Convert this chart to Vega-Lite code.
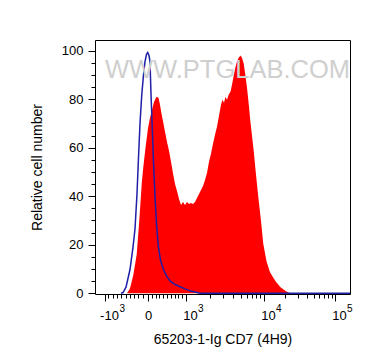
{
  "$schema": "https://vega.github.io/schema/vega-lite/v6.json",
  "width": 255,
  "height": 254,
  "autosize": {"type": "none"},
  "padding": {"left": 95, "top": 40, "right": 22, "bottom": 70},
  "background": "white",
  "title": {
    "text": "WWW.PTGLAB.COM",
    "orient": "top",
    "anchor": "middle",
    "frame": "group",
    "offset": -63,
    "baseline": "alphabetic",
    "dx": 5,
    "font": "Liberation Sans",
    "fontSize": 25.5,
    "fontWeight": "normal",
    "color": "#cfcfcf",
    "zindex": -1
  },
  "config": {
    "view": {"stroke": "black", "strokeWidth": 1},
    "font": "Liberation Sans",
    "axis": {
      "grid": false,
      "domain": false,
      "tickColor": "black",
      "tickWidth": 1,
      "labelColor": "black",
      "labelFont": "Liberation Sans",
      "labelFontSize": 13,
      "titleFont": "Liberation Sans",
      "titleFontSize": 14,
      "titleFontWeight": "normal",
      "titleColor": "black",
      "labelOverlap": false,
      "labelFlush": false
    }
  },
  "datasets": {
    "sample": [
      {"channel": 32, "count": 0},
      {"channel": 35, "count": 2},
      {"channel": 38.3, "count": 7.5},
      {"channel": 41.7, "count": 16},
      {"channel": 44.3, "count": 30},
      {"channel": 46.7, "count": 45},
      {"channel": 48.3, "count": 52},
      {"channel": 50.5, "count": 60},
      {"channel": 53, "count": 68},
      {"channel": 55, "count": 72.3},
      {"channel": 57, "count": 75.5},
      {"channel": 59, "count": 78.8},
      {"channel": 61.5, "count": 81},
      {"channel": 63.5, "count": 80.6},
      {"channel": 65, "count": 77.7},
      {"channel": 66.7, "count": 73.6},
      {"channel": 68.5, "count": 69.9},
      {"channel": 70, "count": 66.6},
      {"channel": 72, "count": 62.4},
      {"channel": 74, "count": 58.7},
      {"channel": 76, "count": 54.2},
      {"channel": 78.3, "count": 48.8},
      {"channel": 80, "count": 45},
      {"channel": 82, "count": 42.2},
      {"channel": 84, "count": 38.9},
      {"channel": 86, "count": 36.4},
      {"channel": 88, "count": 37.6},
      {"channel": 90, "count": 36.4},
      {"channel": 92, "count": 37.6},
      {"channel": 94, "count": 36.8},
      {"channel": 96, "count": 37.2},
      {"channel": 98, "count": 36.8},
      {"channel": 100, "count": 37.6},
      {"channel": 102, "count": 39.3},
      {"channel": 104, "count": 40.9},
      {"channel": 106, "count": 42.6},
      {"channel": 108, "count": 44.2},
      {"channel": 110, "count": 46.7},
      {"channel": 112, "count": 49.6},
      {"channel": 114, "count": 54.2},
      {"channel": 116, "count": 57.5},
      {"channel": 118, "count": 61.6},
      {"channel": 120, "count": 65.3},
      {"channel": 122, "count": 68.6},
      {"channel": 124, "count": 73.2},
      {"channel": 126, "count": 77.7},
      {"channel": 127.5, "count": 79.8},
      {"channel": 129, "count": 78.5},
      {"channel": 130.5, "count": 81},
      {"channel": 132, "count": 79.8},
      {"channel": 133.7, "count": 81.9},
      {"channel": 135.5, "count": 83.1},
      {"channel": 137, "count": 86},
      {"channel": 138.5, "count": 89.3},
      {"channel": 140.3, "count": 93},
      {"channel": 142, "count": 95.5},
      {"channel": 143.7, "count": 97.1},
      {"channel": 145.5, "count": 98},
      {"channel": 147, "count": 97.1},
      {"channel": 148.7, "count": 94.7},
      {"channel": 150.3, "count": 90.1},
      {"channel": 152, "count": 84.7},
      {"channel": 153.7, "count": 78.1},
      {"channel": 155.3, "count": 71.1},
      {"channel": 157, "count": 64.9},
      {"channel": 158.7, "count": 58.7},
      {"channel": 160.3, "count": 51.7},
      {"channel": 163.5, "count": 38.9},
      {"channel": 166, "count": 29.8},
      {"channel": 168.3, "count": 20.3},
      {"channel": 171.5, "count": 13.2},
      {"channel": 175, "count": 8.7},
      {"channel": 180.5, "count": 5},
      {"channel": 185.5, "count": 2.5},
      {"channel": 191, "count": 0.8},
      {"channel": 195, "count": 0}
    ],
    "control": [
      {"channel": 26, "count": 0},
      {"channel": 28, "count": 0.3},
      {"channel": 31, "count": 2.5},
      {"channel": 35, "count": 9.8},
      {"channel": 38, "count": 19},
      {"channel": 40, "count": 26.5},
      {"channel": 42, "count": 41},
      {"channel": 43.3, "count": 54},
      {"channel": 45, "count": 70},
      {"channel": 46.7, "count": 81.4},
      {"channel": 48.5, "count": 90},
      {"channel": 50, "count": 95.5},
      {"channel": 51.5, "count": 98.5},
      {"channel": 52.7, "count": 99.2},
      {"channel": 54, "count": 98},
      {"channel": 55, "count": 95.5},
      {"channel": 56, "count": 82},
      {"channel": 57.3, "count": 67.8},
      {"channel": 58.5, "count": 54},
      {"channel": 60, "count": 40},
      {"channel": 61.5, "count": 28.6},
      {"channel": 63.3, "count": 19.4},
      {"channel": 65.5, "count": 13.7},
      {"channel": 68.3, "count": 9.9},
      {"channel": 71.5, "count": 7.2},
      {"channel": 75, "count": 5.1},
      {"channel": 79, "count": 3.9},
      {"channel": 83.3, "count": 3},
      {"channel": 89, "count": 2},
      {"channel": 95, "count": 1},
      {"channel": 100, "count": 0.5},
      {"channel": 105, "count": 0},
      {"channel": 255, "count": 0}
    ]
  },
  "encoding": {
    "y": {
      "field": "count",
      "type": "quantitative",
      "title": "Relative cell number",
      "scale": {"domain": [-0.3, 104.4], "nice": false, "zero": false},
      "axis": {
        "values": [0, 5, 10, 15, 20, 25, 30, 35, 40, 45, 50, 55, 60, 65, 70, 75, 80, 85, 90, 95, 100],
        "labelExpr": "datum.value % 20 == 0 ? datum.label : ''",
        "tickSize": {"condition": {"test": "datum.value % 20 == 0", "value": 7}, "value": 4},
        "labelPadding": 5,
        "titlePadding": 17
      }
    }
  },
  "resolve": {"axis": {"x": "independent"}},
  "layer": [
    {
      "data": {"name": "sample"},
      "mark": {"type": "area", "color": "#ff0000"},
      "encoding": {
        "x": {
          "field": "channel",
          "type": "quantitative",
          "title": "65203-1-Ig CD7 (4H9)",
          "scale": {"domain": [0, 255], "nice": false, "zero": false},
          "axis": {
            "orient": "bottom",
            "values": [10, 13.3, 17.6, 21.9, 26.2, 30.5, 34.8, 39.1, 43.4, 47.7, 53, 56.8, 60.6, 64.4, 68.2, 72, 75.8, 79.6, 83.4, 87.2, 91, 114.5, 128.2, 138, 145.5, 151.7, 156.9, 161.4, 165.4, 169, 190.4, 202.9, 211.7, 218.6, 224.2, 229, 233.1, 236.7, 240],
            "labelExpr": "datum.value == 10 ? '-10' : datum.value == 53 ? '0' : datum.value == 91 ? '10' : datum.value == 169 ? '10' : datum.value == 240 ? '10' : ''",
            "tickSize": {"condition": {"test": "datum.value == 10 || datum.value == 53 || datum.value == 91 || datum.value == 169 || datum.value == 240", "value": 7}, "value": 4},
            "labelOffset": {"condition": {"test": "datum.value == 53", "value": 0}, "value": 4},
            "labelPadding": 8,
            "titlePadding": 10
          }
        }
      }
    },
    {
      "data": {"name": "control"},
      "mark": {"type": "line", "color": "#1f1fa8", "strokeWidth": 1.5},
      "encoding": {
        "x": {
          "field": "channel",
          "type": "quantitative",
          "title": null,
          "axis": {
            "orient": "bottom",
            "values": [10, 91, 169, 240],
            "labelExpr": "datum.value == 10 ? '3' : datum.value == 91 ? '3' : datum.value == 169 ? '4' : '5'",
            "ticks": false,
            "tickSize": 0,
            "labelFontSize": 10,
            "labelAlign": "left",
            "labelBaseline": "top",
            "labelOffset": {"condition": {"test": "datum.value == 10", "value": 14}, "value": 11.5},
            "labelPadding": 9
          }
        }
      }
    }
  ]
}
